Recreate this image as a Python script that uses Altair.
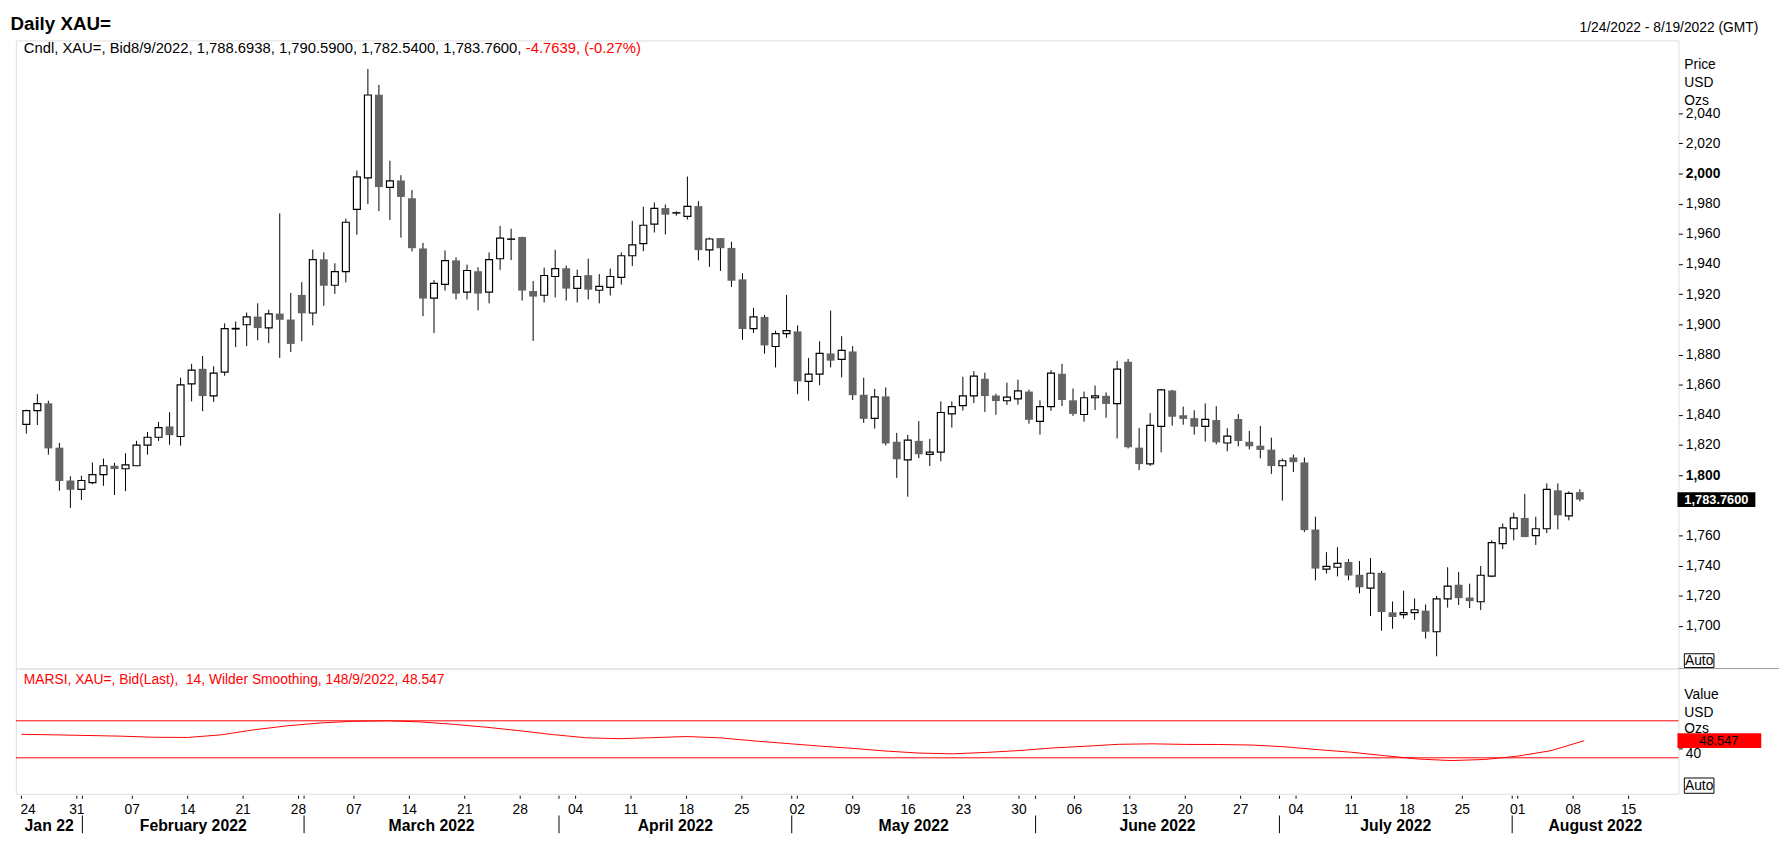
import altair as alt
import pandas as pd

FONT = "Liberation Sans"

# ---------------- data ----------------
opens = [1833.6, 1842.8, 1847.6, 1818.2, 1796.4, 1790.5, 1795.0, 1800.3, 1806.2, 1804.2,
         1806.2, 1819.9, 1825.1, 1832.3, 1825.6, 1860.5, 1870.5, 1852.6, 1868.3, 1896.9,
         1899.7, 1905.1, 1897.7, 1907.1, 1903.2, 1919.5, 1907.5, 1943.1, 1925.9, 1935.0,
         1976.2, 1997.1, 2052.3, 1990.8, 1995.4, 1983.6, 1950.3, 1917.4, 1926.5, 1942.4,
         1921.3, 1935.2, 1921.3, 1943.5, 1956.4, 1957.9, 1922.1, 1919.3, 1931.7, 1937.2,
         1923.9, 1932.6, 1922.6, 1924.5, 1931.1, 1945.5, 1953.5, 1966.4, 1977.1, 1973.8,
         1971.6, 1978.4, 1949.4, 1957.2, 1950.7, 1929.8, 1897.1, 1904.9, 1885.3, 1893.8,
         1895.3, 1862.2, 1867.0, 1880.7, 1876.8, 1882.0, 1853.3, 1837.6, 1852.2, 1822.1,
         1810.1, 1822.7, 1813.8, 1815.3, 1840.6, 1846.1, 1852.6, 1863.9, 1852.8, 1849.3,
         1850.6, 1855.4, 1835.6, 1845.4, 1867.2, 1849.6, 1840.2, 1851.3, 1852.6, 1847.4,
         1875.1, 1818.2, 1807.5, 1832.3, 1856.1, 1839.7, 1837.8, 1832.3, 1836.5, 1821.3,
         1837.2, 1822.1, 1819.5, 1816.9, 1806.2, 1811.7, 1808.4, 1763.9, 1737.6, 1738.9,
         1742.4, 1733.9, 1725.1, 1735.2, 1709.0, 1707.5, 1708.8, 1710.1, 1696.1, 1717.9,
         1727.3, 1718.8, 1716.0, 1733.0, 1754.6, 1764.4, 1771.6, 1759.8, 1764.4, 1789.9,
         1772.9, 1788.6938]
highs = [1843.4, 1853.7, 1849.3, 1821.4, 1799.2, 1799.6, 1808.4, 1811.0, 1808.1, 1814.5,
         1822.7, 1828.6, 1835.2, 1841.7, 1864.6, 1873.8, 1879.0, 1872.2, 1900.6, 1901.9,
         1907.8, 1913.9, 1909.7, 1973.6, 1920.8, 1928.0, 1949.6, 1947.7, 1940.5, 1970.1,
         2002.0, 2069.3, 2058.8, 2008.5, 1998.9, 1989.1, 1954.0, 1929.3, 1949.0, 1944.4,
         1939.6, 1937.8, 1947.7, 1965.3, 1963.4, 1958.1, 1928.7, 1937.6, 1949.4, 1938.9,
         1936.3, 1943.5, 1933.3, 1937.0, 1947.7, 1968.6, 1978.0, 1980.8, 1979.5, 1974.9,
         1998.0, 1981.7, 1957.5, 1957.2, 1954.8, 1933.9, 1911.0, 1906.2, 1895.8, 1919.5,
         1899.3, 1877.7, 1888.8, 1909.1, 1892.1, 1885.5, 1864.6, 1857.2, 1858.1, 1828.0,
         1826.7, 1835.8, 1824.0, 1848.9, 1848.9, 1865.2, 1869.0, 1867.9, 1853.9, 1861.3,
         1863.3, 1856.7, 1849.6, 1869.6, 1873.8, 1857.4, 1855.4, 1859.4, 1854.8, 1875.7,
         1877.0, 1831.2, 1841.1, 1857.2, 1856.5, 1845.4, 1843.0, 1847.6, 1845.7, 1831.1,
         1840.5, 1829.3, 1832.6, 1824.8, 1811.0, 1813.6, 1811.7, 1772.4, 1748.9, 1752.2,
         1744.3, 1743.0, 1745.0, 1736.5, 1716.2, 1723.4, 1718.2, 1714.2, 1719.9, 1738.9,
         1735.8, 1728.0, 1739.7, 1756.7, 1767.9, 1775.1, 1787.5, 1772.4, 1794.5, 1794.5,
         1789.2, 1790.59]
lows = [1827.5, 1833.2, 1813.6, 1789.6, 1778.3, 1783.5, 1794.0, 1792.9, 1786.8, 1789.4,
        1806.0, 1813.6, 1822.7, 1820.1, 1819.5, 1848.9, 1842.4, 1848.5, 1865.9, 1884.9,
        1885.5, 1889.4, 1887.5, 1877.7, 1881.6, 1888.8, 1899.3, 1912.3, 1920.2, 1927.8,
        1959.4, 1979.7, 1975.1, 1969.2, 1957.5, 1948.3, 1905.4, 1894.2, 1922.4, 1916.5,
        1916.5, 1909.3, 1913.9, 1936.1, 1942.6, 1915.8, 1889.0, 1914.5, 1917.8, 1915.8,
        1914.5, 1916.5, 1913.9, 1919.1, 1926.3, 1938.7, 1948.5, 1960.9, 1959.6, 1972.1,
        1969.5, 1942.4, 1938.1, 1935.4, 1924.8, 1889.7, 1894.2, 1880.5, 1871.4, 1891.0,
        1853.7, 1849.3, 1859.6, 1871.4, 1864.8, 1849.8, 1834.7, 1830.8, 1819.7, 1798.1,
        1785.7, 1811.2, 1806.0, 1809.2, 1831.5, 1842.8, 1847.8, 1841.9, 1840.0, 1846.5,
        1846.7, 1834.1, 1826.9, 1842.6, 1845.8, 1839.3, 1835.4, 1843.2, 1838.0, 1824.3,
        1817.7, 1803.3, 1806.0, 1815.1, 1832.8, 1833.4, 1826.9, 1822.3, 1820.4, 1815.8,
        1819.1, 1817.1, 1811.2, 1800.8, 1783.1, 1802.1, 1762.2, 1730.2, 1734.7, 1732.8,
        1730.2, 1721.6, 1706.6, 1696.8, 1698.1, 1704.9, 1704.0, 1691.6, 1679.8, 1712.1,
        1713.8, 1711.8, 1710.5, 1732.3, 1750.9, 1756.7, 1758.9, 1753.7, 1761.5, 1764.0,
        1770.0, 1782.54]
closes = [1842.8, 1847.4, 1817.7, 1796.1, 1790.3, 1796.4, 1800.3, 1806.2, 1804.0, 1806.8,
          1819.9, 1825.1, 1831.5, 1826.5, 1859.8, 1869.6, 1852.4, 1867.6, 1897.1, 1897.3,
          1904.9, 1897.5, 1906.9, 1903.0, 1887.0, 1907.3, 1942.9, 1925.6, 1935.0, 1967.7,
          1997.8, 2052.1, 1991.0, 1995.2, 1984.5, 1950.5, 1917.1, 1927.2, 1942.2, 1920.4,
          1935.7, 1920.4, 1942.9, 1957.2, 1956.6, 1922.4, 1918.4, 1932.4, 1937.0, 1923.7,
          1931.7, 1923.0, 1925.2, 1931.7, 1945.5, 1952.7, 1965.7, 1976.9, 1972.7, 1974.0,
          1978.2, 1949.2, 1956.6, 1950.5, 1928.9, 1896.9, 1904.9, 1886.0, 1893.8, 1895.8,
          1862.2, 1867.0, 1880.7, 1875.9, 1882.7, 1853.0, 1837.3, 1851.9, 1821.0, 1810.5,
          1823.2, 1813.8, 1815.3, 1841.5, 1845.4, 1852.6, 1865.7, 1852.4, 1849.1, 1851.7,
          1855.9, 1836.7, 1845.4, 1867.6, 1849.8, 1840.6, 1851.3, 1852.6, 1847.2, 1870.3,
          1818.4, 1807.3, 1833.0, 1856.5, 1838.7, 1837.3, 1832.1, 1836.9, 1821.7, 1825.9,
          1822.6, 1819.1, 1816.7, 1806.0, 1809.5, 1808.6, 1763.5, 1738.0, 1739.5, 1741.5,
          1733.4, 1725.6, 1734.9, 1709.2, 1705.9, 1708.8, 1710.7, 1696.1, 1717.9, 1726.4,
          1718.4, 1716.4, 1733.6, 1755.2, 1765.0, 1771.6, 1758.9, 1764.4, 1790.5, 1773.3,
          1787.9, 1783.76]

# RSI (MARSI) readings, every third trading day
rsi_idx = [0, 3, 6, 9, 12, 15, 18, 21, 24, 27, 30, 33, 36, 39, 42, 45, 48, 51, 54, 57,
           60, 63, 66, 69, 72, 75, 78, 81, 84, 87, 90, 93, 96, 99, 102, 105, 108, 111, 114, 117,
           120, 123, 126, 129, 132, 135, 138, 141]
rsi_val = [55.4, 54.8, 54.1, 53.4, 52.2, 52.0, 54.8, 60.3, 64.6, 67.7, 69.5, 70.0, 68.8, 66.2,
           63.0, 59.2, 55.0, 51.6, 50.7, 51.8, 53.0, 51.6, 48.4, 45.5, 42.7, 40.2, 37.3, 35.1,
           34.3, 35.8, 37.8, 40.6, 42.5, 44.6, 45.1, 44.5, 44.4, 43.8, 41.9, 38.8, 36.0, 32.3,
           28.7, 27.0, 28.2, 31.8, 37.7, 48.547]
rsi_levels = [30, 70]

# x-axis labels
tick_idx = [0, 5, 10, 15, 20, 25, 30, 35, 40, 45, 50, 55, 60, 65, 70, 75, 80, 85, 90, 95,
            100, 105, 110, 115, 120, 125, 130, 135, 140, 145]
tick_labels = ["24", "31", "07", "14", "21", "28", "07", "14", "21", "28", "04", "11", "18",
               "25", "02", "09", "16", "23", "30", "06", "13", "20", "27", "04", "11", "18",
               "25", "01", "08", "15"]
month_start_idx = [6, 26, 49, 70, 92, 114, 135]
month_names = ["Jan 22", "February 2022", "March 2022", "April 2022", "May 2022",
               "June 2022", "July 2022", "August 2022"]
# 1,780 sits under the last-price box in the reference, so it is not drawn
price_ticks = [1700, 1720, 1740, 1760, 1800, 1820, 1840, 1860, 1880, 1900, 1920,
               1940, 1960, 1980, 2000, 2020, 2040]
x_domain = [-0.5, 149.5]
price_domain = [1671.7, 2088.3]
rsi_domain = [-8.9, 126.5]

header_black = "Cndl, XAU=, Bid8/9/2022, 1,788.6938, 1,790.5900, 1,782.5400, 1,783.7600, "
header_red = "-4.7639, (-0.27%)"
rsi_title = "MARSI, XAU=, Bid(Last),\u00a0 14, Wilder Smoothing, 148/9/2022, 48.547"

# ---------------- tables ----------------
n = len(opens)
df = pd.DataFrame({"i": list(range(n)), "open": opens, "high": highs,
                   "low": lows, "close": closes})
df["dir"] = ["up" if c >= o else "down" for o, c in zip(opens, closes)]
rsi_df = pd.DataFrame({"i": rsi_idx, "v": rsi_val})
lev_df = pd.DataFrame({"v": rsi_levels})
ticks_df = pd.DataFrame({"i": tick_idx, "lab": tick_labels})
edges = [x_domain[0]] + [s - 0.5 for s in month_start_idx] + [x_domain[1]]
month_df = pd.DataFrame({"c": [(a + b) / 2 for a, b in zip(edges[:-1], edges[1:])],
                         "lab": month_names})
sep_df = pd.DataFrame({"i": [s - 0.5 for s in month_start_idx]})

W, H1, H2 = 1686, 637, 127
GRAY = "#9a9a9a"
RED = "#ff0000"

xs = alt.Scale(domain=x_domain, nice=False, zero=False)
ps = alt.Scale(domain=price_domain, nice=False, zero=False)
rs = alt.Scale(domain=rsi_domain, nice=False, zero=False)

price_axis = alt.Axis(orient="right", values=price_ticks, format=",.0f", tickSize=4,
                      tickColor="black", tickWidth=1, labelFontSize=14, labelFont=FONT,
                      labelColor="black", labelPadding=3, domain=False, grid=False,
                      title=None, labelOverlap=False, labelFlush=False, labelBound=False,
                      labelFontWeight={"condition": {"test": "datum.value == 1800 || datum.value == 2000",
                                                     "value": "bold"}, "value": "normal"})
rsi_axis = alt.Axis(orient="right", values=[40], format=".0f", tickSize=4, tickColor="black",
                    labelFontSize=14, labelFont=FONT, labelColor="black", labelPadding=3,
                    labelOffset=5, domain=False, grid=False, title=None)


def X(f):
    return alt.X(f, type="quantitative", scale=xs, axis=None)


def YP(f):
    return alt.Y(f, type="quantitative", scale=ps, axis=price_axis)


def YR(f):
    return alt.Y(f, type="quantitative", scale=rs, axis=rsi_axis)


def txt(s, x, y, size=14, color="black", weight="normal", align="left", baseline="alphabetic"):
    return alt.Chart(pd.DataFrame({"t": [s]})).mark_text(
        font=FONT, fontSize=size, color=color, fontWeight=weight, align=align,
        baseline=baseline).encode(x=alt.value(x), y=alt.value(y), text="t:N")


one = pd.DataFrame({"a": [0]})

# ---------------- price panel ----------------
anchor = alt.Chart(one).mark_rule(color="white", strokeWidth=1).encode(
    x=alt.value(-6.5), y=alt.value(-26), y2=alt.value(-25))
base = alt.Chart(df)
wicks = base.mark_rule(color="black", strokeWidth=1).encode(x=X("i"), y=YP("low"), y2="high")
down = base.transform_filter("datum.dir == 'down'").mark_bar(
    width=8, color="#646464").encode(x=X("i"), y=YP("open"), y2="close")
up = base.transform_filter("datum.dir == 'up'").mark_bar(
    width=7, fill="white", stroke="black", strokeWidth=1.2).encode(x=X("i"), y=YP("open"), y2="close")

last_df = pd.DataFrame({"v": [closes[-1]], "t": [f"{closes[-1]:,.4f}"]})
last_box = alt.Chart(last_df).mark_rule(color="black", strokeWidth=15).encode(
    y=YP("v"), x=alt.value(W - 1), x2=alt.value(W + 78))
last_txt = alt.Chart(last_df).mark_text(font=FONT, fontSize=13, fontWeight="bold",
                                        color="white", align="center", baseline="middle").encode(
    y=YP("v"), x=alt.value(W + 38.5), text="t:N")

auto_box = alt.Chart(one).mark_rect(fill="white", stroke="black", strokeWidth=1).encode(
    x=alt.value(W + 6), x2=alt.value(W + 36), y=alt.value(H1 - 15), y2=alt.value(H1 - 1))
sep_ext = alt.Chart(one).mark_rule(color=GRAY, strokeWidth=1).encode(
    x=alt.value(W), x2=alt.value(W + 102), y=alt.value(H1))

price = alt.layer(
    anchor, wicks, down, up, last_box, last_txt, auto_box, sep_ext,
    txt("Auto", W + 21, H1 - 8, align="center", baseline="middle"),
    txt("Daily XAU=", -5.5, -10.5, size=19, weight="bold"),
    txt("1/24/2022 - 8/19/2022 (GMT)", W + 81, -8.3, size=14, align="right"),
    txt(header_black, 8, 13, size=15),
    txt(header_red, 8 + 509.1, 13, size=15, color=RED),
    txt("Price", W + 6, 28.5),
    txt("USD", W + 6, 47.5),
    txt("Ozs", W + 6, 65.5),
).properties(width=W, height=H1)

# ---------------- RSI panel ----------------
rsi_line = alt.Chart(rsi_df).mark_line(color=RED, strokeWidth=1).encode(x=X("i"), y=YR("v"))
levels = alt.Chart(lev_df).mark_rule(color=RED, strokeWidth=1).encode(y=YR("v"))
rlast = pd.DataFrame({"v": [rsi_val[-1]], "t": [f"{rsi_val[-1]:.3f}"]})
rsi_box = alt.Chart(rlast).mark_rule(color=RED, strokeWidth=15).encode(
    y=YR("v"), x=alt.value(W - 1), x2=alt.value(W + 84))
rsi_box_txt = alt.Chart(rlast).mark_text(font=FONT, fontSize=13, color="black",
                                         align="center", baseline="middle").encode(
    y=YR("v"), x=alt.value(W + 41), text="t:N")
rauto_box = alt.Chart(one).mark_rect(fill="white", stroke="black", strokeWidth=1).encode(
    x=alt.value(W + 6), x2=alt.value(W + 36), y=alt.value(H2 - 16), y2=alt.value(H2 - 0.5))

day_ticks = alt.Chart(ticks_df).mark_rule(color="black", strokeWidth=1).encode(
    x=X("i"), y=alt.value(H2 + 2), y2=alt.value(H2 + 5))
first_lab = alt.Chart(ticks_df).transform_filter("datum.i == 0").mark_text(
    font=FONT, fontSize=14, color="black", align="left", baseline="alphabetic", dx=-1).encode(
    x=X("i"), y=alt.value(H2 + 20), text="lab:N")
other_lab = alt.Chart(ticks_df).transform_filter("datum.i > 0").mark_text(
    font=FONT, fontSize=14, color="black", align="center", baseline="alphabetic").encode(
    x=X("i"), y=alt.value(H2 + 20), text="lab:N")
sep_ticks = alt.Chart(sep_df).mark_rule(color="black", strokeWidth=1).encode(
    x=X("i"), y=alt.value(H2 + 2), y2=alt.value(H2 + 5))
sep_lines = alt.Chart(sep_df).mark_rule(color="black", strokeWidth=1).encode(
    x=X("i"), y=alt.value(H2 + 22), y2=alt.value(H2 + 40))
month_lab = alt.Chart(month_df).mark_text(
    font=FONT, fontSize=16, fontWeight="bold", color="black", align="center",
    baseline="alphabetic").encode(x=X("c"), y=alt.value(H2 + 37.5), text="lab:N")

rsi = alt.layer(
    levels, rsi_line, rsi_box, rsi_box_txt, rauto_box,
    txt("Auto", W + 21, H2 - 8, align="center", baseline="middle"),
    txt(rsi_title, 8, 15.5, color=RED),
    txt("Value", W + 6, 31),
    txt("USD", W + 6, 49),
    txt("Ozs", W + 6, 65.5),
    day_ticks, first_lab, other_lab, sep_ticks, sep_lines, month_lab,
).properties(width=W, height=H2)

chart = alt.vconcat(price, rsi, spacing=0, bounds="flush").properties(
    padding=0, background="white"
).configure_view(stroke=GRAY, strokeWidth=1).configure(font=FONT)

chart.save("out.html", embed_options={"renderer": "svg", "actions": False})
